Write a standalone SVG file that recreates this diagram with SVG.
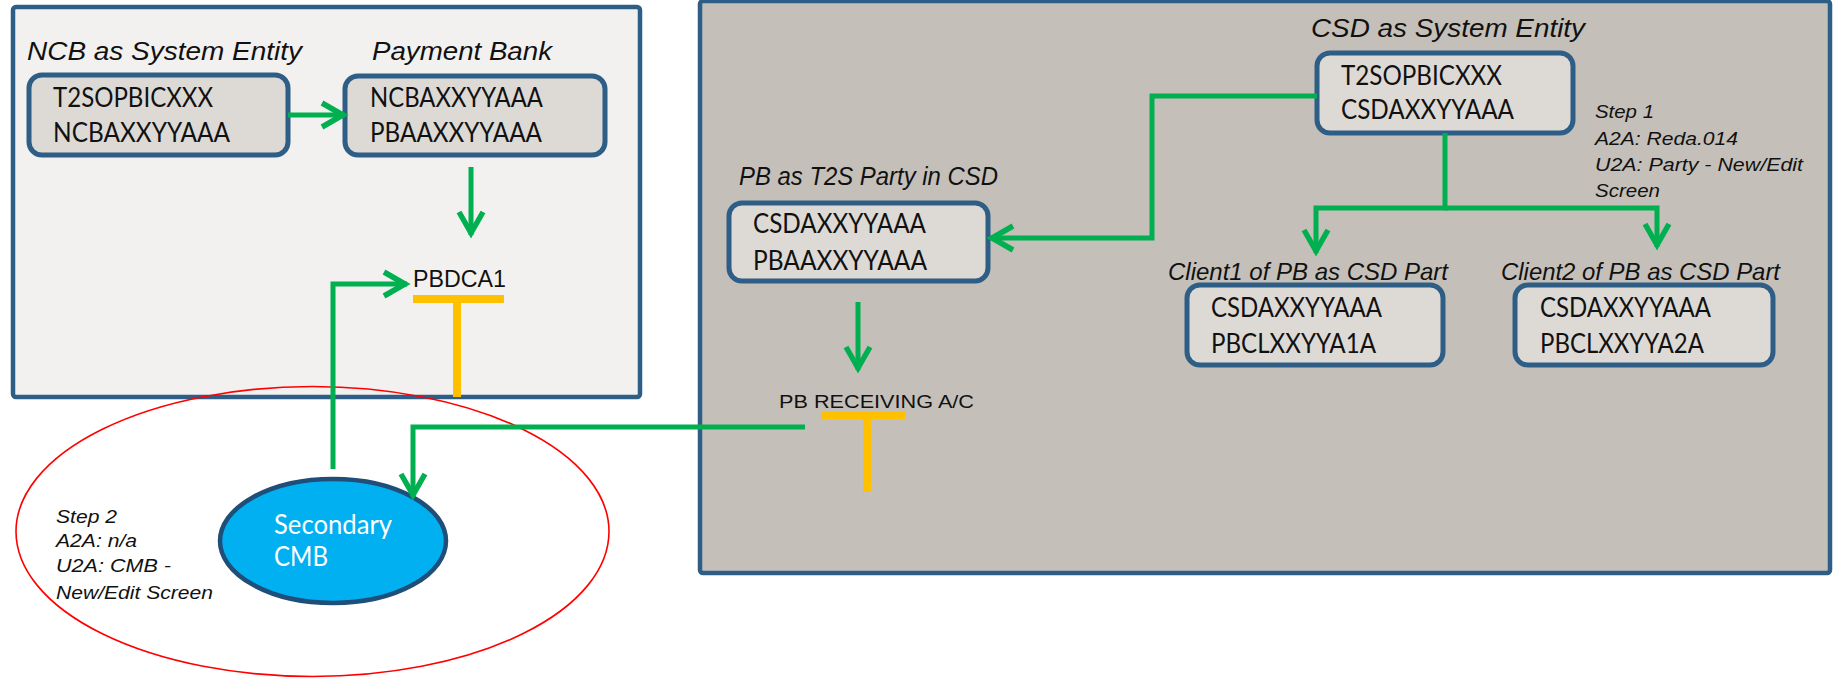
<svg xmlns="http://www.w3.org/2000/svg" width="1839" height="678" viewBox="0 0 1839 678">
<style>
.outer{stroke:#2e5d86;stroke-width:4.5}
.inner{fill:#dddad5;stroke:#2e5d86;stroke-width:5}
.lbl{font-family:"Liberation Sans",Arial,sans-serif;font-style:italic;font-size:26px;fill:#111}
.step{font-family:"Liberation Sans",Arial,sans-serif;font-style:italic;font-size:18.5px;fill:#111}
.code{font-family:Lato,"Liberation Sans",sans-serif;font-size:26px;fill:#111}
.acct{font-family:"Liberation Sans",Arial,sans-serif;font-size:23px;fill:#111}
.cmb{font-family:Lato,"Liberation Sans",sans-serif;font-size:26px;fill:#ffffff}
.conn{fill:none;stroke:#00b050;stroke-width:5;stroke-linejoin:miter}
.tee{fill:#ffc000}
</style>
<defs>
<marker id="ah" markerUnits="userSpaceOnUse" markerWidth="40" markerHeight="40" viewBox="-30 -20 40 40" refX="0" refY="0" orient="auto" overflow="visible">
<path d="M-23,-12 L-2,0 L-23,12" fill="none" stroke="#00b050" stroke-width="5.5"/>
</marker>
</defs>
<rect width="1839" height="678" fill="#ffffff"/>

<g id="ncb-area">
<rect class="outer" x="13" y="7" width="627" height="390" rx="3" fill="#f2f1ef"/>
</g>
<g id="csd-area">
<rect class="outer" x="700" y="1" width="1130" height="572" rx="3" fill="#c4c0b9"/>
</g>

<g id="ncb-system-entity">
<text class="lbl" x="27" y="60" textLength="275" lengthAdjust="spacingAndGlyphs">NCB as System Entity</text>
<rect class="inner" x="29" y="75" width="259" height="80" rx="13"/>
<text class="code" x="53" y="107" textLength="160" lengthAdjust="spacingAndGlyphs">T2SOPBICXXX</text>
<text class="code" x="53" y="142" textLength="177" lengthAdjust="spacingAndGlyphs">NCBAXXYYAAA</text>
</g>

<g id="payment-bank">
<text class="lbl" x="372" y="60" textLength="180" lengthAdjust="spacingAndGlyphs">Payment Bank</text>
<rect class="inner" x="345" y="76" width="260" height="79" rx="13"/>
<text class="code" x="370" y="107" textLength="173" lengthAdjust="spacingAndGlyphs">NCBAXXYYAAA</text>
<text class="code" x="370" y="142" textLength="172" lengthAdjust="spacingAndGlyphs">PBAAXXYYAAA</text>
</g>

<g id="pbdca1">
<text class="acct" x="413" y="287" textLength="93" lengthAdjust="spacingAndGlyphs">PBDCA1</text>
<rect class="tee" x="413" y="295" width="91" height="8"/>
<rect class="tee" x="453" y="303" width="8" height="94"/>
</g>

<g id="csd-system-entity">
<text class="lbl" x="1311" y="37" textLength="274" lengthAdjust="spacingAndGlyphs">CSD as System Entity</text>
<rect class="inner" x="1317" y="53" width="256" height="80" rx="13"/>
<text class="code" x="1341" y="85" textLength="161" lengthAdjust="spacingAndGlyphs">T2SOPBICXXX</text>
<text class="code" x="1341" y="119" textLength="173" lengthAdjust="spacingAndGlyphs">CSDAXXYYAAA</text>
</g>

<g id="step1">
<text class="step" x="1595" y="118" textLength="59" lengthAdjust="spacingAndGlyphs">Step 1</text>
<text class="step" x="1595" y="145" textLength="143" lengthAdjust="spacingAndGlyphs">A2A: Reda.014</text>
<text class="step" x="1595" y="171" textLength="208" lengthAdjust="spacingAndGlyphs">U2A: Party - New/Edit</text>
<text class="step" x="1595" y="197" textLength="65" lengthAdjust="spacingAndGlyphs">Screen</text>
</g>

<g id="pb-t2s-party">
<text class="lbl" x="739" y="185" textLength="259" lengthAdjust="spacingAndGlyphs">PB as T2S Party in CSD</text>
<rect class="inner" x="729" y="203" width="259" height="78" rx="13"/>
<text class="code" x="753" y="233" textLength="173" lengthAdjust="spacingAndGlyphs">CSDAXXYYAAA</text>
<text class="code" x="753" y="270" textLength="174" lengthAdjust="spacingAndGlyphs">PBAAXXYYAAA</text>
</g>

<g id="pb-receiving">
<text class="acct" x="779" y="408" style="font-size:18.5px" textLength="195" lengthAdjust="spacingAndGlyphs">PB RECEIVING A/C</text>
<rect class="tee" x="821" y="412" width="84" height="7"/>
<rect class="tee" x="863" y="419" width="8" height="73"/>
</g>

<g id="client1">
<text class="lbl" x="1168" y="280" style="font-size:24px" textLength="280" lengthAdjust="spacingAndGlyphs">Client1 of PB as CSD Part</text>
<rect class="inner" x="1187" y="285" width="256" height="80" rx="13"/>
<text class="code" x="1211" y="317" textLength="171" lengthAdjust="spacingAndGlyphs">CSDAXXYYAAA</text>
<text class="code" x="1211" y="353" textLength="165" lengthAdjust="spacingAndGlyphs">PBCLXXYYA1A</text>
</g>

<g id="client2">
<text class="lbl" x="1501" y="280" style="font-size:24px" textLength="279" lengthAdjust="spacingAndGlyphs">Client2 of PB as CSD Part</text>
<rect class="inner" x="1515" y="285" width="258" height="80" rx="13"/>
<text class="code" x="1540" y="317" textLength="171" lengthAdjust="spacingAndGlyphs">CSDAXXYYAAA</text>
<text class="code" x="1540" y="353" textLength="164" lengthAdjust="spacingAndGlyphs">PBCLXXYYA2A</text>
</g>

<g id="step2-area">
<ellipse cx="312.5" cy="531.5" rx="296.5" ry="145" fill="none" stroke="#ff0000" stroke-width="1.6"/>
<text class="step" x="56" y="523" textLength="61" lengthAdjust="spacingAndGlyphs">Step 2</text>
<text class="step" x="56" y="547" textLength="81" lengthAdjust="spacingAndGlyphs">A2A: n/a</text>
<text class="step" x="56" y="572" textLength="115" lengthAdjust="spacingAndGlyphs">U2A: CMB -</text>
<text class="step" x="56" y="599" textLength="157" lengthAdjust="spacingAndGlyphs">New/Edit Screen</text>
</g>

<g id="secondary-cmb">
<ellipse cx="333" cy="541" rx="113" ry="62" fill="#00b0f0" stroke="#1f4e79" stroke-width="4.5"/>
<text class="cmb" x="274" y="534" textLength="118" lengthAdjust="spacingAndGlyphs">Secondary</text>
<text class="cmb" x="274" y="566" textLength="54" lengthAdjust="spacingAndGlyphs">CMB</text>
</g>

<g id="connectors">
<path class="conn" d="M288,115 H345" marker-end="url(#ah)"/>
<path class="conn" d="M471,167 V235" marker-end="url(#ah)"/>
<path class="conn" d="M333,469 V284 H407" marker-end="url(#ah)"/>
<path class="conn" d="M1317,96 H1152 V238 H990" marker-end="url(#ah)"/>
<path class="conn" d="M858,302 V370" marker-end="url(#ah)"/>
<path class="conn" d="M1445,133 V208 H1316 V253" marker-end="url(#ah)"/>
<path class="conn" d="M1445,208 H1657 V247" marker-end="url(#ah)"/>
<path class="conn" d="M805,427 H413 V497" marker-end="url(#ah)"/>
</g>
</svg>
